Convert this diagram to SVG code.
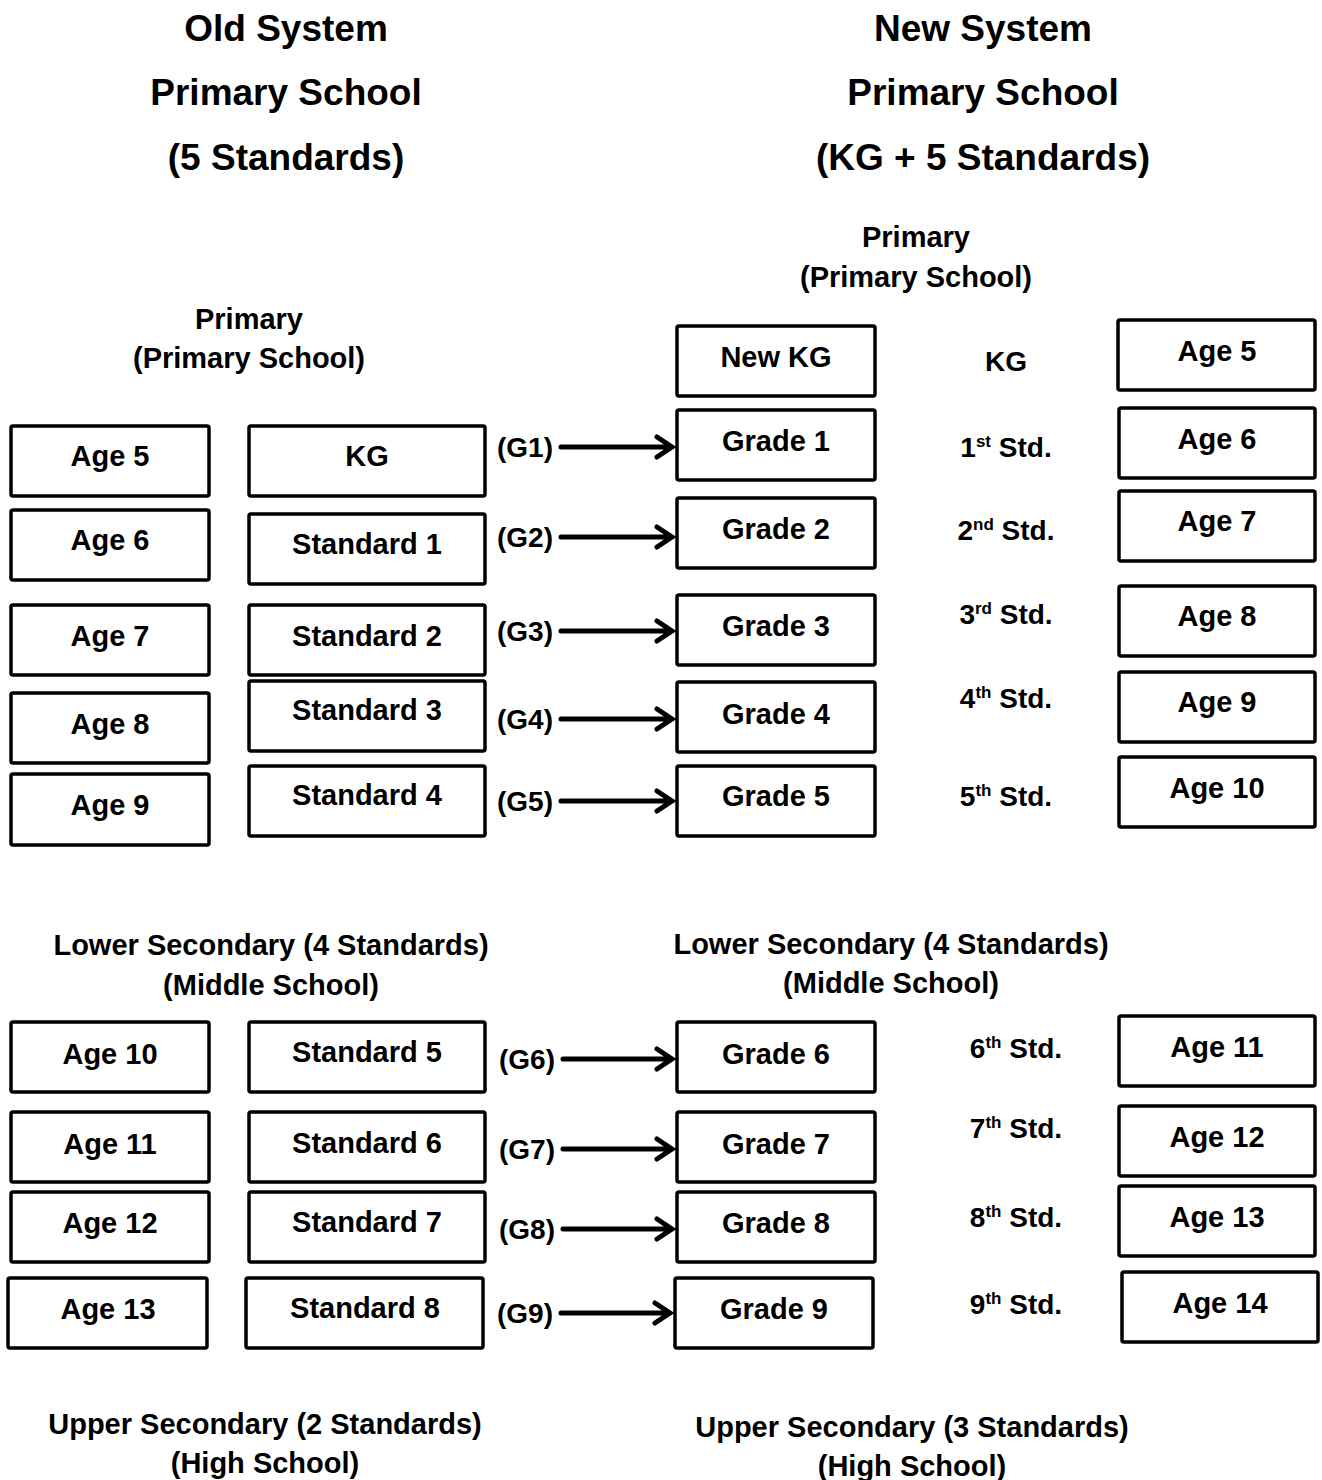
<svg xmlns="http://www.w3.org/2000/svg" width="1322" height="1480" viewBox="0 0 1322 1480">
<style>
text{font-family:"Liberation Sans",Arial,sans-serif;font-weight:bold;fill:#000;text-anchor:middle}
.t{font-size:37px}
.h{font-size:29px}
.b rect{fill:#fff;stroke:#000;stroke-width:3.5;rx:2}
.b text{font-size:29px}
.s{font-size:28px}
.s tspan.sup{font-size:17px}
.g{font-size:28px}
</style>
<rect width="1322" height="1480" fill="#fff"/>
<g id="headings">
<text class="t" x="286" y="41">Old System</text>
<text class="t" x="286" y="105">Primary School</text>
<text class="t" x="286" y="170">(5 Standards)</text>
<text class="t" x="983" y="41">New System</text>
<text class="t" x="983" y="105">Primary School</text>
<text class="t" x="983" y="170">(KG + 5 Standards)</text>
<text class="h" x="249" y="329">Primary</text>
<text class="h" x="249" y="368">(Primary School)</text>
<text class="h" x="916" y="247">Primary</text>
<text class="h" x="916" y="287">(Primary School)</text>
<text class="h" x="271" y="955">Lower Secondary (4 Standards)</text>
<text class="h" x="271" y="995">(Middle School)</text>
<text class="h" x="891" y="954">Lower Secondary (4 Standards)</text>
<text class="h" x="891" y="993">(Middle School)</text>
<text class="h" x="265" y="1434">Upper Secondary (2 Standards)</text>
<text class="h" x="265" y="1473">(High School)</text>
<text class="h" x="912" y="1437">Upper Secondary (3 Standards)</text>
<text class="h" x="912" y="1476">(High School)</text>
</g>
<g id="old-ages" class="b">
<g id="oa5"><rect x="11" y="426" width="198" height="70"/><text x="110" y="466">Age 5</text></g>
<g id="oa6"><rect x="11" y="510" width="198" height="70"/><text x="110" y="550">Age 6</text></g>
<g id="oa7"><rect x="11" y="605" width="198" height="70"/><text x="110" y="646">Age 7</text></g>
<g id="oa8"><rect x="11" y="693" width="198" height="70"/><text x="110" y="734">Age 8</text></g>
<g id="oa9"><rect x="11" y="774" width="198" height="71"/><text x="110" y="815">Age 9</text></g>
<g id="oa10"><rect x="11" y="1022" width="198" height="70"/><text x="110" y="1064">Age 10</text></g>
<g id="oa11"><rect x="11" y="1112" width="198" height="70"/><text x="110" y="1154">Age 11</text></g>
<g id="oa12"><rect x="11" y="1192" width="198" height="70"/><text x="110" y="1233">Age 12</text></g>
<g id="oa13"><rect x="8" y="1278" width="199" height="70"/><text x="108" y="1319">Age 13</text></g>
</g>
<g id="old-standards" class="b">
<g id="okg"><rect x="249" y="426" width="236" height="70"/><text x="367" y="466">KG</text></g>
<g id="os1"><rect x="249" y="514" width="236" height="70"/><text x="367" y="554">Standard 1</text></g>
<g id="os2"><rect x="249" y="605" width="236" height="70"/><text x="367" y="646">Standard 2</text></g>
<g id="os3"><rect x="249" y="681" width="236" height="70"/><text x="367" y="720">Standard 3</text></g>
<g id="os4"><rect x="249" y="766" width="236" height="70"/><text x="367" y="805">Standard 4</text></g>
<g id="os5"><rect x="249" y="1022" width="236" height="70"/><text x="367" y="1062">Standard 5</text></g>
<g id="os6"><rect x="249" y="1112" width="236" height="70"/><text x="367" y="1153">Standard 6</text></g>
<g id="os7"><rect x="249" y="1192" width="236" height="70"/><text x="367" y="1232">Standard 7</text></g>
<g id="os8"><rect x="246" y="1278" width="237" height="70"/><text x="365" y="1318">Standard 8</text></g>
</g>
<g id="grades" class="b">
<g id="nkg"><rect x="677" y="326" width="198" height="70"/><text x="776" y="367">New KG</text></g>
<g id="g1"><rect x="677" y="410" width="198" height="70"/><text x="776" y="451">Grade 1</text></g>
<g id="g2"><rect x="677" y="498" width="198" height="70"/><text x="776" y="539">Grade 2</text></g>
<g id="g3"><rect x="677" y="595" width="198" height="70"/><text x="776" y="636">Grade 3</text></g>
<g id="g4"><rect x="677" y="682" width="198" height="70"/><text x="776" y="724">Grade 4</text></g>
<g id="g5"><rect x="677" y="766" width="198" height="70"/><text x="776" y="806">Grade 5</text></g>
<g id="g6"><rect x="677" y="1022" width="198" height="70"/><text x="776" y="1064">Grade 6</text></g>
<g id="g7"><rect x="677" y="1112" width="198" height="70"/><text x="776" y="1154">Grade 7</text></g>
<g id="g8"><rect x="677" y="1192" width="198" height="70"/><text x="776" y="1233">Grade 8</text></g>
<g id="g9"><rect x="675" y="1278" width="198" height="70"/><text x="774" y="1319">Grade 9</text></g>
</g>
<g id="std-labels" class="s">
<text x="1006" y="371">KG</text>
<text x="1006" y="457">1<tspan class="sup" dy="-10">st</tspan><tspan dy="10"> Std.</tspan></text>
<text x="1006" y="540">2<tspan class="sup" dy="-10">nd</tspan><tspan dy="10"> Std.</tspan></text>
<text x="1006" y="624">3<tspan class="sup" dy="-10">rd</tspan><tspan dy="10"> Std.</tspan></text>
<text x="1006" y="708">4<tspan class="sup" dy="-10">th</tspan><tspan dy="10"> Std.</tspan></text>
<text x="1006" y="806">5<tspan class="sup" dy="-10">th</tspan><tspan dy="10"> Std.</tspan></text>
<text x="1016" y="1058">6<tspan class="sup" dy="-10">th</tspan><tspan dy="10"> Std.</tspan></text>
<text x="1016" y="1138">7<tspan class="sup" dy="-10">th</tspan><tspan dy="10"> Std.</tspan></text>
<text x="1016" y="1227">8<tspan class="sup" dy="-10">th</tspan><tspan dy="10"> Std.</tspan></text>
<text x="1016" y="1314">9<tspan class="sup" dy="-10">th</tspan><tspan dy="10"> Std.</tspan></text>
</g>
<g id="new-ages" class="b">
<g id="na5"><rect x="1118" y="320" width="197" height="70"/><text x="1217" y="361">Age 5</text></g>
<g id="na6"><rect x="1119" y="408" width="196" height="70"/><text x="1217" y="449">Age 6</text></g>
<g id="na7"><rect x="1119" y="491" width="196" height="70"/><text x="1217" y="531">Age 7</text></g>
<g id="na8"><rect x="1119" y="586" width="196" height="70"/><text x="1217" y="626">Age 8</text></g>
<g id="na9"><rect x="1119" y="672" width="196" height="70"/><text x="1217" y="712">Age 9</text></g>
<g id="na10"><rect x="1119" y="757" width="196" height="70"/><text x="1217" y="798">Age 10</text></g>
<g id="na11"><rect x="1119" y="1016" width="196" height="70"/><text x="1217" y="1057">Age 11</text></g>
<g id="na12"><rect x="1119" y="1106" width="196" height="70"/><text x="1217" y="1147">Age 12</text></g>
<g id="na13"><rect x="1119" y="1186" width="196" height="70"/><text x="1217" y="1227">Age 13</text></g>
<g id="na14"><rect x="1122" y="1272" width="196" height="70"/><text x="1220" y="1313">Age 14</text></g>
</g>
<g id="connectors">
<g class="g">
<text x="525" y="457">(G1)</text>
<text x="525" y="547">(G2)</text>
<text x="525" y="641">(G3)</text>
<text x="525" y="729">(G4)</text>
<text x="525" y="811">(G5)</text>
<text x="527" y="1069">(G6)</text>
<text x="527" y="1159">(G7)</text>
<text x="527" y="1239">(G8)</text>
<text x="525" y="1323">(G9)</text>
</g>
<g fill="none" stroke="#000" stroke-width="5" stroke-linecap="round" stroke-linejoin="miter">
<path d="M561 447H672M657 437L672 447L657 457"/>
<path d="M561 537H672M657 527L672 537L657 547"/>
<path d="M561 631H672M657 621L672 631L657 641"/>
<path d="M561 719H672M657 709L672 719L657 729"/>
<path d="M561 801H672M657 791L672 801L657 811"/>
<path d="M563 1059H672M657 1049L672 1059L657 1069"/>
<path d="M563 1149H672M657 1139L672 1149L657 1159"/>
<path d="M563 1229H672M657 1219L672 1229L657 1239"/>
<path d="M561 1313H670M655 1303L670 1313L655 1323"/>
</g>
</g>
</svg>
